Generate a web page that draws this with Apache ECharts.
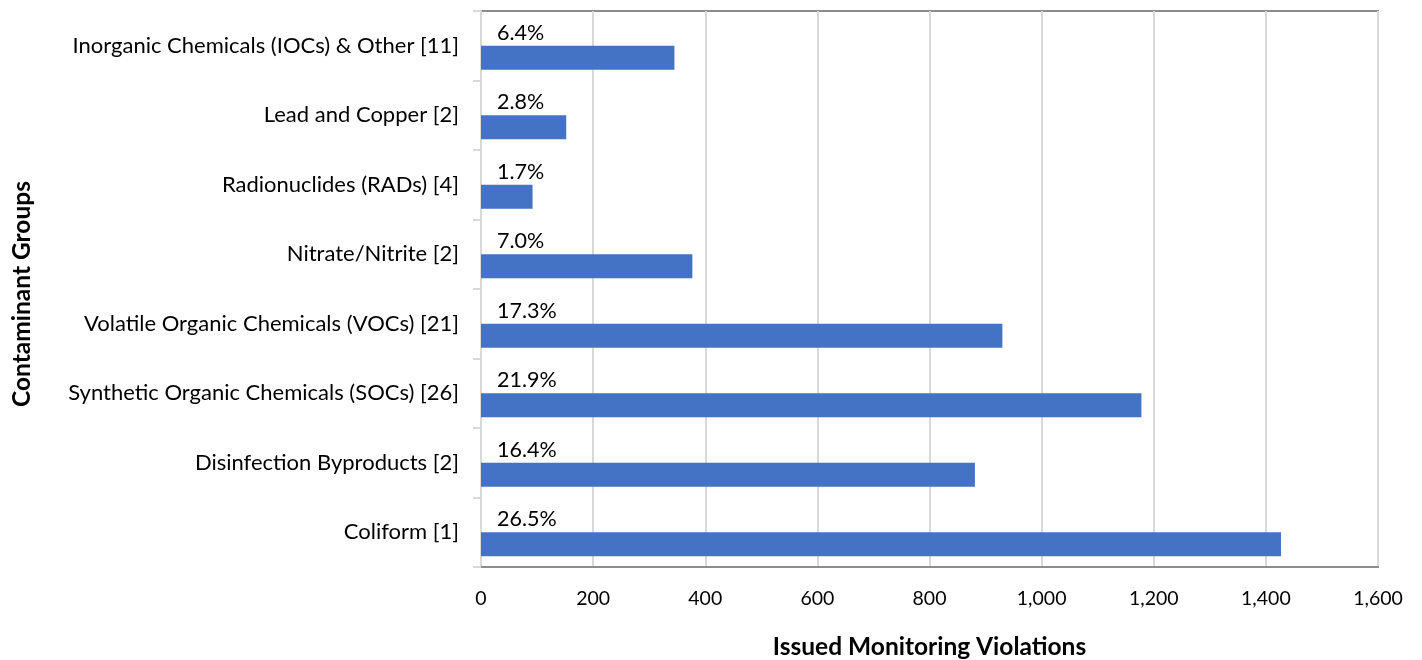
<!DOCTYPE html>
<html>
<head>
<meta charset="utf-8">
<script src="https://cdn.jsdelivr.net/npm/echarts@6/dist/echarts.min.js"></script>
<style>
  html, body { margin: 0; padding: 0; background: #fff; }
  #chart { width: 1422px; height: 660px; }
</style>
</head>
<body>
<div id="chart"></div>
<script>
// Contaminant groups, listed bottom to top as on the category axis
const categories = [
  'Coliform [1]',
  'Disinfection Byproducts [2]',
  'Synthetic Organic Chemicals (SOCs) [26]',
  'Volatile Organic Chemicals (VOCs) [21]',
  'Nitrate/Nitrite [2]',
  'Radionuclides (RADs) [4]',
  'Lead and Copper [2]',
  'Inorganic Chemicals (IOCs) & Other [11]'
];
// Issued monitoring violations per group
const violations = [1427, 881, 1178, 930, 377, 92, 152, 345];
// Share of all violations, as printed above each bar
const shareLabels = ['26.5%', '16.4%', '21.9%', '17.3%', '7.0%', '1.7%', '2.8%', '6.4%'];
const xTicks = { min: 0, max: 1600, interval: 200 };

const FONT = 'Lato';
const chart = echarts.init(document.getElementById('chart'), null, { renderer: 'canvas' });

chart.setOption({
  animation: false,
  backgroundColor: '#ffffff',
  textStyle: { fontFamily: FONT, color: '#000' },
  grid: {
    left: 481, right: 44, top: 11, bottom: 93,
    outerBoundsMode: 'none',
    containLabel: false,
    show: true, borderColor: '#8c8c8c', borderWidth: 2, backgroundColor: 'transparent'
  },
  xAxis: {
    type: 'value',
    min: xTicks.min, max: xTicks.max, interval: xTicks.interval,
    name: 'Issued Monitoring Violations',
    nameLocation: 'middle',
    nameGap: 68,
    nameTextStyle: { fontFamily: FONT, fontWeight: 'bold', fontSize: 24.5, color: '#000' },
    axisLine: { show: true, lineStyle: { color: '#8c8c8c', width: 2 } },
    axisTick: { show: false },
    axisLabel: {
      fontFamily: FONT, fontSize: 19.5, color: '#000', margin: 22,
      formatter: v => v.toLocaleString('en-US')
    },
    splitLine: { show: true, lineStyle: { color: '#d9d9d9', width: 2 } }
  },
  yAxis: {
    type: 'category',
    data: categories,
    name: 'Contaminant Groups',
    nameLocation: 'middle',
    nameGap: 446,
    nameRotate: 90,
    nameTextStyle: {
      fontFamily: FONT, fontWeight: 'bold', fontSize: 24.5, color: '#000',
      padding: [0, 10, 0, 0]
    },
    axisLine: { show: true, lineStyle: { color: '#d9d9d9', width: 2 } },
    axisTick: { show: true, length: 8, lineStyle: { color: '#d9d9d9', width: 2 } },
    axisLabel: { fontFamily: FONT, fontSize: 22, color: '#000', margin: 22 },
    splitLine: { show: false }
  },
  series: [
    {
      // empty slot above each bar, keeps the bar in the lower half of its band
      name: 'spacer',
      type: 'bar',
      data: violations,
      barWidth: 24,
      barGap: '0%',
      silent: true,
      itemStyle: { color: 'rgba(0,0,0,0)' }
    },
    {
      name: 'Violations',
      type: 'bar',
      data: violations,
      barWidth: 24,
      barGap: '0%',
      itemStyle: { color: '#4472C4' },
      label: {
        show: true,
        position: [16, -13],
        verticalAlign: 'middle',
        align: 'left',
        fontFamily: FONT,
        fontSize: 21.5,
        color: '#000',
        formatter: p => shareLabels[p.dataIndex]
      }
    }
  ]
});
</script>
</body>
</html>
